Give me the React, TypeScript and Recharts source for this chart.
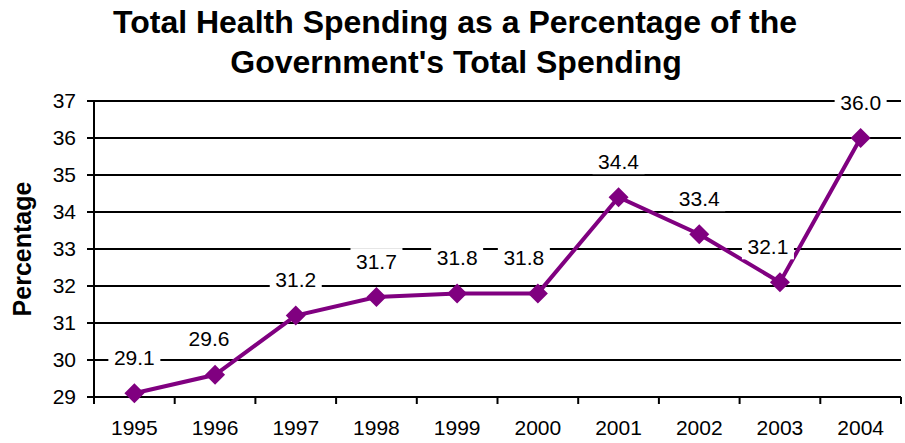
import { LineChart, Line, XAxis, YAxis, CartesianGrid, LabelList } from "recharts";

const years = ["1995", "1996", "1997", "1998", "1999", "2000", "2001", "2002", "2003", "2004"];
const spending = [29.1, 29.6, 31.2, 31.7, 31.8, 31.8, 34.4, 33.4, 32.1, 36.0];
const yTicks = [29, 30, 31, 32, 33, 34, 35, 36, 37];

// a few labels were dragged sideways in the original so they clear the line
const labelNudge: Record<string, number> = { "1996": -6, "2000": -14, "2003": -12 };

const data = years.map((year, i) => ({ year, value: spending[i] }));

const FONT = "'Liberation Sans', Arial, sans-serif";
const PURPLE = "#800080";

function Diamond(props: any) {
  const { cx, cy } = props;
  if (cx == null || cy == null) return null;
  const r = 10;
  return <polygon points={`${cx},${cy - r} ${cx + r},${cy} ${cx},${cy + r} ${cx - r},${cy}`} fill={PURPLE} />;
}

function ValueLabel(props: any) {
  const { x, y, value, index } = props;
  if (x == null || y == null) return null;
  const lx = x + (labelNudge[years[index]] ?? 0);
  const ly = y - 36;
  return (
    <g>
      <rect x={lx - 26} y={ly - 13} width={52} height={26} fill="#fff" />
      <text x={lx} y={ly} textAnchor="middle" dominantBaseline="central" fontSize={21} fontFamily={FONT} fill="#000">
        {Number(value).toFixed(1)}
      </text>
    </g>
  );
}

// year label at the band centre, tick marks on the band edges
function YearTick(props: any) {
  const { x, y, payload, index, visibleTicksCount, width } = props;
  const half = (Number(width) || 807) / (visibleTicksCount || 10) / 2;
  const mark = (px: number) => <line x1={px} y1={y} x2={px} y2={y + 7} stroke="#000" strokeWidth={2} />;
  return (
    <g>
      {mark(x - half)}
      {index === visibleTicksCount - 1 ? mark(x + half) : null}
      <text x={x} y={y + 23} dy="0.71em" textAnchor="middle" fontSize={21} fontFamily={FONT} fill="#000">
        {payload.value}
      </text>
    </g>
  );
}

export default function App() {
  return (
    <div style={{ position: "absolute", left: 0, top: 0, width: 905, height: 443, background: "#fff" }}>
      <LineChart width={905} height={443} data={data} margin={{ top: 101, right: 4, bottom: 0, left: 0 }}>
        <CartesianGrid vertical={false} stroke="#000" strokeWidth={2} />
        <XAxis
          dataKey="year"
          scale="band"
          height={46}
          tickLine={false}
          tickSize={0}
          tickMargin={0}
          axisLine={{ stroke: "#000", strokeWidth: 2 }}
          tick={<YearTick />}
          interval={0}
        />
        <YAxis
          domain={[29, 37]}
          ticks={yTicks}
          width={94}
          tickSize={7}
          tickMargin={11}
          tickLine={{ stroke: "#000", strokeWidth: 2 }}
          axisLine={{ stroke: "#000", strokeWidth: 2 }}
          tick={{ fill: "#000", fontSize: 21, fontFamily: FONT }}
          interval={0}
        />
        <YAxis
          yAxisId="right"
          orientation="right"
          domain={[29, 37]}
          width={0}
          tick={false}
          tickLine={false}
          axisLine={{ stroke: "#000", strokeWidth: 2 }}
        />
        <Line
          dataKey="value"
          stroke={PURPLE}
          strokeWidth={4}
          dot={<Diamond />}
          activeDot={false}
          isAnimationActive={false}
        >
          <LabelList dataKey="value" content={<ValueLabel />} />
        </Line>
      </LineChart>
      <svg width={905} height={443} style={{ position: "absolute", left: 0, top: 0, pointerEvents: "none" }}>
        <text x={455} y={33} textAnchor="middle" fontSize={32} fontWeight="bold" fontFamily={FONT} fill="#000">
          Total Health Spending as a Percentage of the
        </text>
        <text x={456} y={73} textAnchor="middle" fontSize={32} fontWeight="bold" fontFamily={FONT} fill="#000">
          Government's Total Spending
        </text>
        <text
          x={0}
          y={0}
          transform="translate(31,249) rotate(-90)"
          textAnchor="middle"
          fontSize={25}
          fontWeight="bold"
          fontFamily={FONT}
          fill="#000"
        >
          Percentage
        </text>
      </svg>
    </div>
  );
}
